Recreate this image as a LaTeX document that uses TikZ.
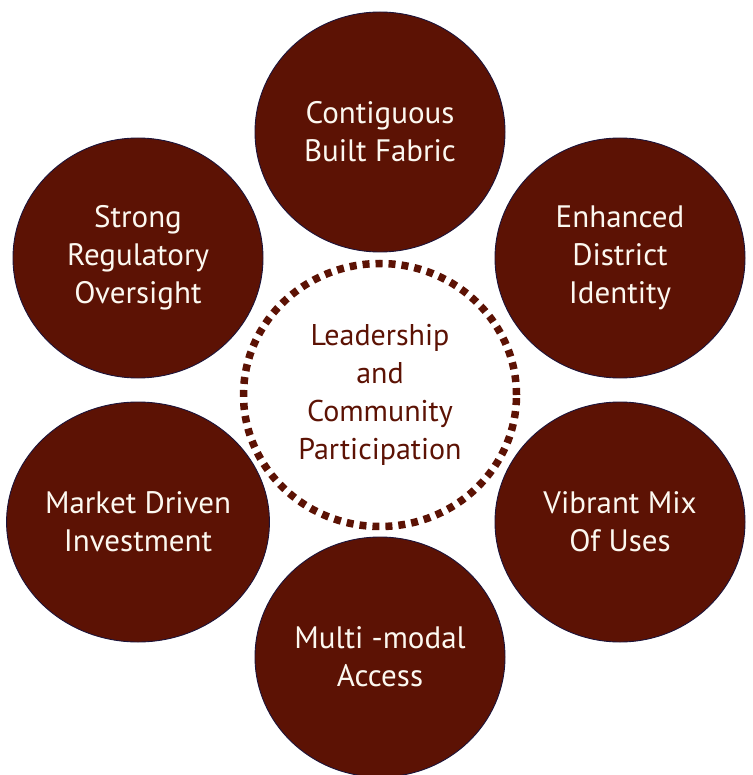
\documentclass[tikz,border=0pt]{standalone}
\usepackage{fontspec}
\setmainfont{PT Sans}
\usepackage{xcolor}
\usetikzlibrary{shapes.geometric,positioning}
\definecolor{maroon}{RGB}{92,18,4}
\definecolor{rimblue}{RGB}{28,20,58}
\definecolor{cream}{RGB}{252,248,240}

\begin{document}
\begin{tikzpicture}[x=1pt, y=-1pt,
    pillar/.style={ellipse, fill=maroon, draw=rimblue, line width=0.9pt,
        minimum width=250pt, minimum height=240pt, inner sep=0pt,
        align=center, text=cream, font=\fontsize{31}{38}\selectfont},
    hub/.style={ellipse, draw=maroon, line width=7.5pt, dash pattern=on 7pt off 6pt,
        minimum width=273pt, minimum height=263pt, inner sep=0pt,
        align=center, text=maroon, font=\fontsize{30}{38}\selectfont}
]

\useasboundingbox (0,0) rectangle (752,775);

\node[hub] (leadership) at (380,395) {Leadership\\and\\Community\\Participation};

\node[pillar] (fabric) at (380,132) {Contiguous\\Built Fabric};
\node[pillar] (identity) at (620,258) {Enhanced\\District\\Identity};
\node[pillar] (mix) at (620,522) {Vibrant Mix\\Of Uses};
\node[pillar] (access) at (380,657) {Multi -modal\\Access};
\node[pillar] (investment) at (138,522) {Market Driven\\Investment};
\node[pillar] (oversight) at (138,258) {Strong\\Regulatory\\Oversight};

\end{tikzpicture}
\end{document}
